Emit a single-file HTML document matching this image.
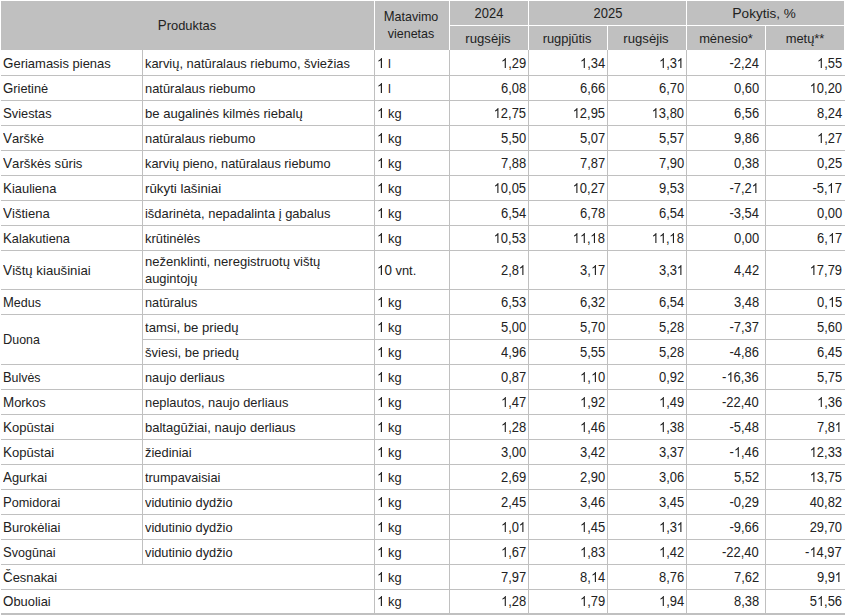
<!DOCTYPE html>
<html><head><meta charset="utf-8"><style>
html,body{margin:0;padding:0;background:#fff;}
body{width:845px;height:615px;position:relative;overflow:hidden;font-family:"Liberation Sans",sans-serif;font-size:14px;color:#222;}
div{position:absolute;}
.l,.r,.c{line-height:17px;white-space:nowrap;}
.u{font-size:14px;line-height:1px;}
.one{display:inline-block;width:7.786px;height:10.06px;vertical-align:baseline;fill:currentColor;overflow:visible;}
.l{transform:scaleX(0.925);transform-origin:0 0;}
.r{transform:scaleX(0.925);transform-origin:100% 0;text-align:right;}
.c{transform:translateX(-50%) scaleX(0.925);transform-origin:50% 0;text-align:center;}
</style></head><body>
<svg width="0" height="0" style="position:absolute"><defs><symbol id="o1" viewBox="0 0 1139 1472"><path transform="matrix(1 0 0 -1 0 1472)" d="M763 0L583 0L583 1147Q518 1085 412 1023Q306 961 222 930L222 1104Q373 1175 486 1276Q599 1377 646 1472L763 1472Z"/></symbol></defs></svg>
<div style="left:1px;top:1px;width:843px;height:49px;background:#c0c0c0"></div>
<div style="left:374px;top:1px;width:1px;height:49px;background:#fff"></div>
<div style="left:449px;top:1px;width:1px;height:49px;background:#fff"></div>
<div style="left:528px;top:1px;width:1px;height:49px;background:#fff"></div>
<div style="left:686px;top:1px;width:1px;height:49px;background:#fff"></div>
<div style="left:607px;top:26px;width:1px;height:24px;background:#fff"></div>
<div style="left:765px;top:26px;width:1px;height:24px;background:#fff"></div>
<div style="left:449px;top:25px;width:395px;height:1px;background:#fff"></div>
<div class="c" style="left:186.8px;top:17px;transform:translateX(-50%) scaleX(0.9550);font-size:13.5px;"><span class="u">P</span>roduktas</div>
<div class="c" style="left:411.2px;top:8px;transform:translateX(-50%) scaleX(0.9270);font-size:13.5px;"><span class="u">M</span>atavimo<br>vienetas</div>
<div class="c" style="left:489.0px;top:5px;">2024</div>
<div class="c" style="left:607.5px;top:5px;">2025</div>
<div class="c" style="left:764.1px;top:5px;transform:translateX(-50%) scaleX(1.0030);font-size:13.5px;"><span class="u">P</span>okytis, %</div>
<div class="c" style="left:488.0px;top:30px;transform:translateX(-50%) scaleX(0.9740);font-size:13.5px;">rugsėjis</div>
<div class="c" style="left:567.0px;top:30px;transform:translateX(-50%) scaleX(0.9550);font-size:13.5px;">rugpjūtis</div>
<div class="c" style="left:646.0px;top:30px;transform:translateX(-50%) scaleX(0.9740);font-size:13.5px;">rugsėjis</div>
<div class="c" style="left:726.0px;top:30px;transform:translateX(-50%) scaleX(0.9550);font-size:13.5px;">mėnesio*</div>
<div class="c" style="left:805.0px;top:30px;transform:translateX(-50%) scaleX(0.9550);font-size:13.5px;">metų**</div>
<div style="left:1px;top:75px;width:844px;height:1px;background:#c0c0c0"></div>
<div style="left:142px;top:50px;width:1px;height:26px;background:#c0c0c0"></div>
<div style="left:374px;top:50px;width:1px;height:26px;background:#c0c0c0"></div>
<div style="left:449px;top:50px;width:1px;height:26px;background:#c0c0c0"></div>
<div style="left:528px;top:50px;width:1px;height:26px;background:#c0c0c0"></div>
<div style="left:607px;top:50px;width:1px;height:26px;background:#c0c0c0"></div>
<div style="left:686px;top:50px;width:1px;height:26px;background:#c0c0c0"></div>
<div style="left:765px;top:50px;width:1px;height:26px;background:#c0c0c0"></div>
<div style="left:1px;top:100px;width:844px;height:1px;background:#c0c0c0"></div>
<div style="left:142px;top:75px;width:1px;height:26px;background:#c0c0c0"></div>
<div style="left:374px;top:75px;width:1px;height:26px;background:#c0c0c0"></div>
<div style="left:449px;top:75px;width:1px;height:26px;background:#c0c0c0"></div>
<div style="left:528px;top:75px;width:1px;height:26px;background:#c0c0c0"></div>
<div style="left:607px;top:75px;width:1px;height:26px;background:#c0c0c0"></div>
<div style="left:686px;top:75px;width:1px;height:26px;background:#c0c0c0"></div>
<div style="left:765px;top:75px;width:1px;height:26px;background:#c0c0c0"></div>
<div style="left:1px;top:125px;width:844px;height:1px;background:#c0c0c0"></div>
<div style="left:142px;top:100px;width:1px;height:26px;background:#c0c0c0"></div>
<div style="left:374px;top:100px;width:1px;height:26px;background:#c0c0c0"></div>
<div style="left:449px;top:100px;width:1px;height:26px;background:#c0c0c0"></div>
<div style="left:528px;top:100px;width:1px;height:26px;background:#c0c0c0"></div>
<div style="left:607px;top:100px;width:1px;height:26px;background:#c0c0c0"></div>
<div style="left:686px;top:100px;width:1px;height:26px;background:#c0c0c0"></div>
<div style="left:765px;top:100px;width:1px;height:26px;background:#c0c0c0"></div>
<div style="left:1px;top:150px;width:844px;height:1px;background:#c0c0c0"></div>
<div style="left:142px;top:125px;width:1px;height:26px;background:#c0c0c0"></div>
<div style="left:374px;top:125px;width:1px;height:26px;background:#c0c0c0"></div>
<div style="left:449px;top:125px;width:1px;height:26px;background:#c0c0c0"></div>
<div style="left:528px;top:125px;width:1px;height:26px;background:#c0c0c0"></div>
<div style="left:607px;top:125px;width:1px;height:26px;background:#c0c0c0"></div>
<div style="left:686px;top:125px;width:1px;height:26px;background:#c0c0c0"></div>
<div style="left:765px;top:125px;width:1px;height:26px;background:#c0c0c0"></div>
<div style="left:1px;top:175px;width:844px;height:1px;background:#c0c0c0"></div>
<div style="left:142px;top:150px;width:1px;height:26px;background:#c0c0c0"></div>
<div style="left:374px;top:150px;width:1px;height:26px;background:#c0c0c0"></div>
<div style="left:449px;top:150px;width:1px;height:26px;background:#c0c0c0"></div>
<div style="left:528px;top:150px;width:1px;height:26px;background:#c0c0c0"></div>
<div style="left:607px;top:150px;width:1px;height:26px;background:#c0c0c0"></div>
<div style="left:686px;top:150px;width:1px;height:26px;background:#c0c0c0"></div>
<div style="left:765px;top:150px;width:1px;height:26px;background:#c0c0c0"></div>
<div style="left:1px;top:200px;width:844px;height:1px;background:#c0c0c0"></div>
<div style="left:142px;top:175px;width:1px;height:26px;background:#c0c0c0"></div>
<div style="left:374px;top:175px;width:1px;height:26px;background:#c0c0c0"></div>
<div style="left:449px;top:175px;width:1px;height:26px;background:#c0c0c0"></div>
<div style="left:528px;top:175px;width:1px;height:26px;background:#c0c0c0"></div>
<div style="left:607px;top:175px;width:1px;height:26px;background:#c0c0c0"></div>
<div style="left:686px;top:175px;width:1px;height:26px;background:#c0c0c0"></div>
<div style="left:765px;top:175px;width:1px;height:26px;background:#c0c0c0"></div>
<div style="left:1px;top:225px;width:844px;height:1px;background:#c0c0c0"></div>
<div style="left:142px;top:200px;width:1px;height:26px;background:#c0c0c0"></div>
<div style="left:374px;top:200px;width:1px;height:26px;background:#c0c0c0"></div>
<div style="left:449px;top:200px;width:1px;height:26px;background:#c0c0c0"></div>
<div style="left:528px;top:200px;width:1px;height:26px;background:#c0c0c0"></div>
<div style="left:607px;top:200px;width:1px;height:26px;background:#c0c0c0"></div>
<div style="left:686px;top:200px;width:1px;height:26px;background:#c0c0c0"></div>
<div style="left:765px;top:200px;width:1px;height:26px;background:#c0c0c0"></div>
<div style="left:1px;top:250px;width:844px;height:1px;background:#c0c0c0"></div>
<div style="left:142px;top:225px;width:1px;height:26px;background:#c0c0c0"></div>
<div style="left:374px;top:225px;width:1px;height:26px;background:#c0c0c0"></div>
<div style="left:449px;top:225px;width:1px;height:26px;background:#c0c0c0"></div>
<div style="left:528px;top:225px;width:1px;height:26px;background:#c0c0c0"></div>
<div style="left:607px;top:225px;width:1px;height:26px;background:#c0c0c0"></div>
<div style="left:686px;top:225px;width:1px;height:26px;background:#c0c0c0"></div>
<div style="left:765px;top:225px;width:1px;height:26px;background:#c0c0c0"></div>
<div style="left:1px;top:289px;width:844px;height:1px;background:#c0c0c0"></div>
<div style="left:142px;top:250px;width:1px;height:40px;background:#c0c0c0"></div>
<div style="left:374px;top:250px;width:1px;height:40px;background:#c0c0c0"></div>
<div style="left:449px;top:250px;width:1px;height:40px;background:#c0c0c0"></div>
<div style="left:528px;top:250px;width:1px;height:40px;background:#c0c0c0"></div>
<div style="left:607px;top:250px;width:1px;height:40px;background:#c0c0c0"></div>
<div style="left:686px;top:250px;width:1px;height:40px;background:#c0c0c0"></div>
<div style="left:765px;top:250px;width:1px;height:40px;background:#c0c0c0"></div>
<div style="left:1px;top:314px;width:844px;height:1px;background:#c0c0c0"></div>
<div style="left:142px;top:289px;width:1px;height:26px;background:#c0c0c0"></div>
<div style="left:374px;top:289px;width:1px;height:26px;background:#c0c0c0"></div>
<div style="left:449px;top:289px;width:1px;height:26px;background:#c0c0c0"></div>
<div style="left:528px;top:289px;width:1px;height:26px;background:#c0c0c0"></div>
<div style="left:607px;top:289px;width:1px;height:26px;background:#c0c0c0"></div>
<div style="left:686px;top:289px;width:1px;height:26px;background:#c0c0c0"></div>
<div style="left:765px;top:289px;width:1px;height:26px;background:#c0c0c0"></div>
<div style="left:143px;top:339px;width:702px;height:1px;background:#c0c0c0"></div>
<div style="left:142px;top:314px;width:1px;height:26px;background:#c0c0c0"></div>
<div style="left:374px;top:314px;width:1px;height:26px;background:#c0c0c0"></div>
<div style="left:449px;top:314px;width:1px;height:26px;background:#c0c0c0"></div>
<div style="left:528px;top:314px;width:1px;height:26px;background:#c0c0c0"></div>
<div style="left:607px;top:314px;width:1px;height:26px;background:#c0c0c0"></div>
<div style="left:686px;top:314px;width:1px;height:26px;background:#c0c0c0"></div>
<div style="left:765px;top:314px;width:1px;height:26px;background:#c0c0c0"></div>
<div style="left:1px;top:364px;width:844px;height:1px;background:#c0c0c0"></div>
<div style="left:142px;top:339px;width:1px;height:26px;background:#c0c0c0"></div>
<div style="left:374px;top:339px;width:1px;height:26px;background:#c0c0c0"></div>
<div style="left:449px;top:339px;width:1px;height:26px;background:#c0c0c0"></div>
<div style="left:528px;top:339px;width:1px;height:26px;background:#c0c0c0"></div>
<div style="left:607px;top:339px;width:1px;height:26px;background:#c0c0c0"></div>
<div style="left:686px;top:339px;width:1px;height:26px;background:#c0c0c0"></div>
<div style="left:765px;top:339px;width:1px;height:26px;background:#c0c0c0"></div>
<div style="left:1px;top:389px;width:844px;height:1px;background:#c0c0c0"></div>
<div style="left:142px;top:364px;width:1px;height:26px;background:#c0c0c0"></div>
<div style="left:374px;top:364px;width:1px;height:26px;background:#c0c0c0"></div>
<div style="left:449px;top:364px;width:1px;height:26px;background:#c0c0c0"></div>
<div style="left:528px;top:364px;width:1px;height:26px;background:#c0c0c0"></div>
<div style="left:607px;top:364px;width:1px;height:26px;background:#c0c0c0"></div>
<div style="left:686px;top:364px;width:1px;height:26px;background:#c0c0c0"></div>
<div style="left:765px;top:364px;width:1px;height:26px;background:#c0c0c0"></div>
<div style="left:1px;top:414px;width:844px;height:1px;background:#c0c0c0"></div>
<div style="left:142px;top:389px;width:1px;height:26px;background:#c0c0c0"></div>
<div style="left:374px;top:389px;width:1px;height:26px;background:#c0c0c0"></div>
<div style="left:449px;top:389px;width:1px;height:26px;background:#c0c0c0"></div>
<div style="left:528px;top:389px;width:1px;height:26px;background:#c0c0c0"></div>
<div style="left:607px;top:389px;width:1px;height:26px;background:#c0c0c0"></div>
<div style="left:686px;top:389px;width:1px;height:26px;background:#c0c0c0"></div>
<div style="left:765px;top:389px;width:1px;height:26px;background:#c0c0c0"></div>
<div style="left:1px;top:439px;width:844px;height:1px;background:#c0c0c0"></div>
<div style="left:142px;top:414px;width:1px;height:26px;background:#c0c0c0"></div>
<div style="left:374px;top:414px;width:1px;height:26px;background:#c0c0c0"></div>
<div style="left:449px;top:414px;width:1px;height:26px;background:#c0c0c0"></div>
<div style="left:528px;top:414px;width:1px;height:26px;background:#c0c0c0"></div>
<div style="left:607px;top:414px;width:1px;height:26px;background:#c0c0c0"></div>
<div style="left:686px;top:414px;width:1px;height:26px;background:#c0c0c0"></div>
<div style="left:765px;top:414px;width:1px;height:26px;background:#c0c0c0"></div>
<div style="left:1px;top:464px;width:844px;height:1px;background:#c0c0c0"></div>
<div style="left:142px;top:439px;width:1px;height:26px;background:#c0c0c0"></div>
<div style="left:374px;top:439px;width:1px;height:26px;background:#c0c0c0"></div>
<div style="left:449px;top:439px;width:1px;height:26px;background:#c0c0c0"></div>
<div style="left:528px;top:439px;width:1px;height:26px;background:#c0c0c0"></div>
<div style="left:607px;top:439px;width:1px;height:26px;background:#c0c0c0"></div>
<div style="left:686px;top:439px;width:1px;height:26px;background:#c0c0c0"></div>
<div style="left:765px;top:439px;width:1px;height:26px;background:#c0c0c0"></div>
<div style="left:1px;top:489px;width:844px;height:1px;background:#c0c0c0"></div>
<div style="left:142px;top:464px;width:1px;height:26px;background:#c0c0c0"></div>
<div style="left:374px;top:464px;width:1px;height:26px;background:#c0c0c0"></div>
<div style="left:449px;top:464px;width:1px;height:26px;background:#c0c0c0"></div>
<div style="left:528px;top:464px;width:1px;height:26px;background:#c0c0c0"></div>
<div style="left:607px;top:464px;width:1px;height:26px;background:#c0c0c0"></div>
<div style="left:686px;top:464px;width:1px;height:26px;background:#c0c0c0"></div>
<div style="left:765px;top:464px;width:1px;height:26px;background:#c0c0c0"></div>
<div style="left:1px;top:514px;width:844px;height:1px;background:#c0c0c0"></div>
<div style="left:142px;top:489px;width:1px;height:26px;background:#c0c0c0"></div>
<div style="left:374px;top:489px;width:1px;height:26px;background:#c0c0c0"></div>
<div style="left:449px;top:489px;width:1px;height:26px;background:#c0c0c0"></div>
<div style="left:528px;top:489px;width:1px;height:26px;background:#c0c0c0"></div>
<div style="left:607px;top:489px;width:1px;height:26px;background:#c0c0c0"></div>
<div style="left:686px;top:489px;width:1px;height:26px;background:#c0c0c0"></div>
<div style="left:765px;top:489px;width:1px;height:26px;background:#c0c0c0"></div>
<div style="left:1px;top:539px;width:844px;height:1px;background:#c0c0c0"></div>
<div style="left:142px;top:514px;width:1px;height:26px;background:#c0c0c0"></div>
<div style="left:374px;top:514px;width:1px;height:26px;background:#c0c0c0"></div>
<div style="left:449px;top:514px;width:1px;height:26px;background:#c0c0c0"></div>
<div style="left:528px;top:514px;width:1px;height:26px;background:#c0c0c0"></div>
<div style="left:607px;top:514px;width:1px;height:26px;background:#c0c0c0"></div>
<div style="left:686px;top:514px;width:1px;height:26px;background:#c0c0c0"></div>
<div style="left:765px;top:514px;width:1px;height:26px;background:#c0c0c0"></div>
<div style="left:1px;top:564px;width:844px;height:1px;background:#c0c0c0"></div>
<div style="left:142px;top:539px;width:1px;height:26px;background:#c0c0c0"></div>
<div style="left:374px;top:539px;width:1px;height:26px;background:#c0c0c0"></div>
<div style="left:449px;top:539px;width:1px;height:26px;background:#c0c0c0"></div>
<div style="left:528px;top:539px;width:1px;height:26px;background:#c0c0c0"></div>
<div style="left:607px;top:539px;width:1px;height:26px;background:#c0c0c0"></div>
<div style="left:686px;top:539px;width:1px;height:26px;background:#c0c0c0"></div>
<div style="left:765px;top:539px;width:1px;height:26px;background:#c0c0c0"></div>
<div style="left:1px;top:589px;width:844px;height:1px;background:#c0c0c0"></div>
<div style="left:374px;top:564px;width:1px;height:26px;background:#c0c0c0"></div>
<div style="left:449px;top:564px;width:1px;height:26px;background:#c0c0c0"></div>
<div style="left:528px;top:564px;width:1px;height:26px;background:#c0c0c0"></div>
<div style="left:607px;top:564px;width:1px;height:26px;background:#c0c0c0"></div>
<div style="left:686px;top:564px;width:1px;height:26px;background:#c0c0c0"></div>
<div style="left:765px;top:564px;width:1px;height:26px;background:#c0c0c0"></div>
<div style="left:1px;top:614px;width:844px;height:1px;background:#c0c0c0"></div>
<div style="left:374px;top:589px;width:1px;height:26px;background:#c0c0c0"></div>
<div style="left:449px;top:589px;width:1px;height:26px;background:#c0c0c0"></div>
<div style="left:528px;top:589px;width:1px;height:26px;background:#c0c0c0"></div>
<div style="left:607px;top:589px;width:1px;height:26px;background:#c0c0c0"></div>
<div style="left:686px;top:589px;width:1px;height:26px;background:#c0c0c0"></div>
<div style="left:765px;top:589px;width:1px;height:26px;background:#c0c0c0"></div>
<div style="left:1px;top:613px;width:844px;height:2px;background:#c0c0c0"></div>
<div class="l" style="left:3px;top:55px;transform:scaleX(0.9605);font-size:13.5px;"><span class="u">G</span>eriamasis pienas</div>
<div class="l" style="left:145px;top:55px;transform:scaleX(0.9550);font-size:13.5px;">karvių, natūralaus riebumo, šviežias</div>
<div class="l" style="left:377px;top:55px;transform:scaleX(0.9550);font-size:13.5px;"><svg class="one" viewBox="0 0 1139 1472"><use href="#o1"/></svg> l</div>
<div class="r" style="right:319px;top:55px;"><svg class="one" viewBox="0 0 1139 1472"><use href="#o1"/></svg>,29</div>
<div class="r" style="right:240px;top:55px;"><svg class="one" viewBox="0 0 1139 1472"><use href="#o1"/></svg>,34</div>
<div class="r" style="right:161px;top:55px;"><svg class="one" viewBox="0 0 1139 1472"><use href="#o1"/></svg>,3<svg class="one" viewBox="0 0 1139 1472"><use href="#o1"/></svg></div>
<div class="r" style="right:86px;top:55px;">-2,24</div>
<div class="r" style="right:3px;top:55px;"><svg class="one" viewBox="0 0 1139 1472"><use href="#o1"/></svg>,55</div>
<div class="l" style="left:3px;top:80px;transform:scaleX(0.9468);font-size:13.5px;"><span class="u">G</span>rietinė</div>
<div class="l" style="left:145px;top:80px;transform:scaleX(0.9550);font-size:13.5px;">natūralaus riebumo</div>
<div class="l" style="left:377px;top:80px;transform:scaleX(0.9550);font-size:13.5px;"><svg class="one" viewBox="0 0 1139 1472"><use href="#o1"/></svg> l</div>
<div class="r" style="right:319px;top:80px;">6,08</div>
<div class="r" style="right:240px;top:80px;">6,66</div>
<div class="r" style="right:161px;top:80px;">6,70</div>
<div class="r" style="right:86px;top:80px;">0,60</div>
<div class="r" style="right:3px;top:80px;"><svg class="one" viewBox="0 0 1139 1472"><use href="#o1"/></svg>0,20</div>
<div class="l" style="left:3px;top:105px;transform:scaleX(0.9455);font-size:13.5px;"><span class="u">S</span>viestas</div>
<div class="l" style="left:145px;top:105px;transform:scaleX(0.9686);font-size:13.5px;">be augalinės kilmės riebalų</div>
<div class="l" style="left:377px;top:105px;transform:scaleX(0.9550);font-size:13.5px;"><svg class="one" viewBox="0 0 1139 1472"><use href="#o1"/></svg> kg</div>
<div class="r" style="right:319px;top:105px;"><svg class="one" viewBox="0 0 1139 1472"><use href="#o1"/></svg>2,75</div>
<div class="r" style="right:240px;top:105px;"><svg class="one" viewBox="0 0 1139 1472"><use href="#o1"/></svg>2,95</div>
<div class="r" style="right:161px;top:105px;"><svg class="one" viewBox="0 0 1139 1472"><use href="#o1"/></svg>3,80</div>
<div class="r" style="right:86px;top:105px;">6,56</div>
<div class="r" style="right:3px;top:105px;">8,24</div>
<div class="l" style="left:3px;top:130px;transform:scaleX(0.9661);font-size:13.5px;"><span class="u">V</span>arškė</div>
<div class="l" style="left:145px;top:130px;transform:scaleX(0.9550);font-size:13.5px;">natūralaus riebumo</div>
<div class="l" style="left:377px;top:130px;transform:scaleX(0.9550);font-size:13.5px;"><svg class="one" viewBox="0 0 1139 1472"><use href="#o1"/></svg> kg</div>
<div class="r" style="right:319px;top:130px;">5,50</div>
<div class="r" style="right:240px;top:130px;">5,07</div>
<div class="r" style="right:161px;top:130px;">5,57</div>
<div class="r" style="right:86px;top:130px;">9,86</div>
<div class="r" style="right:3px;top:130px;"><svg class="one" viewBox="0 0 1139 1472"><use href="#o1"/></svg>,27</div>
<div class="l" style="left:3px;top:155px;transform:scaleX(0.9760);font-size:13.5px;"><span class="u">V</span>arškės sūris</div>
<div class="l" style="left:145px;top:155px;transform:scaleX(0.9473);font-size:13.5px;">karvių pieno, natūralaus riebumo</div>
<div class="l" style="left:377px;top:155px;transform:scaleX(0.9550);font-size:13.5px;"><svg class="one" viewBox="0 0 1139 1472"><use href="#o1"/></svg> kg</div>
<div class="r" style="right:319px;top:155px;">7,88</div>
<div class="r" style="right:240px;top:155px;">7,87</div>
<div class="r" style="right:161px;top:155px;">7,90</div>
<div class="r" style="right:86px;top:155px;">0,38</div>
<div class="r" style="right:3px;top:155px;">0,25</div>
<div class="l" style="left:3px;top:180px;transform:scaleX(0.9550);font-size:13.5px;"><span class="u">K</span>iauliena</div>
<div class="l" style="left:145px;top:180px;transform:scaleX(0.9855);font-size:13.5px;">rūkyti lašiniai</div>
<div class="l" style="left:377px;top:180px;transform:scaleX(0.9550);font-size:13.5px;"><svg class="one" viewBox="0 0 1139 1472"><use href="#o1"/></svg> kg</div>
<div class="r" style="right:319px;top:180px;"><svg class="one" viewBox="0 0 1139 1472"><use href="#o1"/></svg>0,05</div>
<div class="r" style="right:240px;top:180px;"><svg class="one" viewBox="0 0 1139 1472"><use href="#o1"/></svg>0,27</div>
<div class="r" style="right:161px;top:180px;">9,53</div>
<div class="r" style="right:86px;top:180px;">-7,2<svg class="one" viewBox="0 0 1139 1472"><use href="#o1"/></svg></div>
<div class="r" style="right:3px;top:180px;">-5,<svg class="one" viewBox="0 0 1139 1472"><use href="#o1"/></svg>7</div>
<div class="l" style="left:3px;top:205px;transform:scaleX(0.9661);font-size:13.5px;"><span class="u">V</span>ištiena</div>
<div class="l" style="left:145px;top:205px;transform:scaleX(0.9576);font-size:13.5px;">išdarinėta, nepadalinta į gabalus</div>
<div class="l" style="left:377px;top:205px;transform:scaleX(0.9550);font-size:13.5px;"><svg class="one" viewBox="0 0 1139 1472"><use href="#o1"/></svg> kg</div>
<div class="r" style="right:319px;top:205px;">6,54</div>
<div class="r" style="right:240px;top:205px;">6,78</div>
<div class="r" style="right:161px;top:205px;">6,54</div>
<div class="r" style="right:86px;top:205px;">-3,54</div>
<div class="r" style="right:3px;top:205px;">0,00</div>
<div class="l" style="left:3px;top:230px;transform:scaleX(0.9436);font-size:13.5px;"><span class="u">K</span>alakutiena</div>
<div class="l" style="left:145px;top:230px;transform:scaleX(0.9550);font-size:13.5px;">krūtinėlės</div>
<div class="l" style="left:377px;top:230px;transform:scaleX(0.9550);font-size:13.5px;"><svg class="one" viewBox="0 0 1139 1472"><use href="#o1"/></svg> kg</div>
<div class="r" style="right:319px;top:230px;"><svg class="one" viewBox="0 0 1139 1472"><use href="#o1"/></svg>0,53</div>
<div class="r" style="right:240px;top:230px;"><svg class="one" viewBox="0 0 1139 1472"><use href="#o1"/></svg><svg class="one" viewBox="0 0 1139 1472"><use href="#o1"/></svg>,<svg class="one" viewBox="0 0 1139 1472"><use href="#o1"/></svg>8</div>
<div class="r" style="right:161px;top:230px;"><svg class="one" viewBox="0 0 1139 1472"><use href="#o1"/></svg><svg class="one" viewBox="0 0 1139 1472"><use href="#o1"/></svg>,<svg class="one" viewBox="0 0 1139 1472"><use href="#o1"/></svg>8</div>
<div class="r" style="right:86px;top:230px;">0,00</div>
<div class="r" style="right:3px;top:230px;">6,<svg class="one" viewBox="0 0 1139 1472"><use href="#o1"/></svg>7</div>
<div class="l" style="left:3px;top:262px;transform:scaleX(0.9781);font-size:13.5px;"><span class="u">V</span>ištų kiaušiniai</div>
<div class="l" style="left:145px;top:253px;transform:scaleX(0.9655);font-size:13.5px;">neženklinti, neregistruotų vištų</div>
<div class="l" style="left:145px;top:270px;transform:scaleX(0.9550);font-size:13.5px;">augintojų</div>
<div class="l" style="left:377px;top:262px;transform:scaleX(0.9550);font-size:13.5px;"><svg class="one" viewBox="0 0 1139 1472"><use href="#o1"/></svg><span class="u">0</span> vnt.</div>
<div class="r" style="right:319px;top:262px;">2,8<svg class="one" viewBox="0 0 1139 1472"><use href="#o1"/></svg></div>
<div class="r" style="right:240px;top:262px;">3,<svg class="one" viewBox="0 0 1139 1472"><use href="#o1"/></svg>7</div>
<div class="r" style="right:161px;top:262px;">3,3<svg class="one" viewBox="0 0 1139 1472"><use href="#o1"/></svg></div>
<div class="r" style="right:86px;top:262px;">4,42</div>
<div class="r" style="right:3px;top:262px;"><svg class="one" viewBox="0 0 1139 1472"><use href="#o1"/></svg>7,79</div>
<div class="l" style="left:3px;top:294px;transform:scaleX(0.9274);font-size:13.5px;"><span class="u">M</span>edus</div>
<div class="l" style="left:145px;top:294px;transform:scaleX(0.9421);font-size:13.5px;">natūralus</div>
<div class="l" style="left:377px;top:294px;transform:scaleX(0.9550);font-size:13.5px;"><svg class="one" viewBox="0 0 1139 1472"><use href="#o1"/></svg> kg</div>
<div class="r" style="right:319px;top:294px;">6,53</div>
<div class="r" style="right:240px;top:294px;">6,32</div>
<div class="r" style="right:161px;top:294px;">6,54</div>
<div class="r" style="right:86px;top:294px;">3,48</div>
<div class="r" style="right:3px;top:294px;">0,<svg class="one" viewBox="0 0 1139 1472"><use href="#o1"/></svg>5</div>
<div class="l" style="left:3px;top:331px;transform:scaleX(0.9170);font-size:13.5px;"><span class="u">D</span>uona</div>
<div class="l" style="left:145px;top:319px;transform:scaleX(0.9741);font-size:13.5px;">tamsi, be priedų</div>
<div class="l" style="left:377px;top:319px;transform:scaleX(0.9550);font-size:13.5px;"><svg class="one" viewBox="0 0 1139 1472"><use href="#o1"/></svg> kg</div>
<div class="r" style="right:319px;top:319px;">5,00</div>
<div class="r" style="right:240px;top:319px;">5,70</div>
<div class="r" style="right:161px;top:319px;">5,28</div>
<div class="r" style="right:86px;top:319px;">-7,37</div>
<div class="r" style="right:3px;top:319px;">5,60</div>
<div class="l" style="left:145px;top:344px;transform:scaleX(0.9634);font-size:13.5px;">šviesi, be priedų</div>
<div class="l" style="left:377px;top:344px;transform:scaleX(0.9550);font-size:13.5px;"><svg class="one" viewBox="0 0 1139 1472"><use href="#o1"/></svg> kg</div>
<div class="r" style="right:319px;top:344px;">4,96</div>
<div class="r" style="right:240px;top:344px;">5,55</div>
<div class="r" style="right:161px;top:344px;">5,28</div>
<div class="r" style="right:86px;top:344px;">-4,86</div>
<div class="r" style="right:3px;top:344px;">6,45</div>
<div class="l" style="left:3px;top:369px;transform:scaleX(0.9192);font-size:13.5px;"><span class="u">B</span>ulvės</div>
<div class="l" style="left:145px;top:369px;transform:scaleX(0.9465);font-size:13.5px;">naujo derliaus</div>
<div class="l" style="left:377px;top:369px;transform:scaleX(0.9550);font-size:13.5px;"><svg class="one" viewBox="0 0 1139 1472"><use href="#o1"/></svg> kg</div>
<div class="r" style="right:319px;top:369px;">0,87</div>
<div class="r" style="right:240px;top:369px;"><svg class="one" viewBox="0 0 1139 1472"><use href="#o1"/></svg>,<svg class="one" viewBox="0 0 1139 1472"><use href="#o1"/></svg>0</div>
<div class="r" style="right:161px;top:369px;">0,92</div>
<div class="r" style="right:86px;top:369px;">-<svg class="one" viewBox="0 0 1139 1472"><use href="#o1"/></svg>6,36</div>
<div class="r" style="right:3px;top:369px;">5,75</div>
<div class="l" style="left:3px;top:394px;transform:scaleX(0.9550);font-size:13.5px;"><span class="u">M</span>orkos</div>
<div class="l" style="left:145px;top:394px;transform:scaleX(0.9550);font-size:13.5px;">neplautos, naujo derliaus</div>
<div class="l" style="left:377px;top:394px;transform:scaleX(0.9550);font-size:13.5px;"><svg class="one" viewBox="0 0 1139 1472"><use href="#o1"/></svg> kg</div>
<div class="r" style="right:319px;top:394px;"><svg class="one" viewBox="0 0 1139 1472"><use href="#o1"/></svg>,47</div>
<div class="r" style="right:240px;top:394px;"><svg class="one" viewBox="0 0 1139 1472"><use href="#o1"/></svg>,92</div>
<div class="r" style="right:161px;top:394px;"><svg class="one" viewBox="0 0 1139 1472"><use href="#o1"/></svg>,49</div>
<div class="r" style="right:86px;top:394px;">-22,40</div>
<div class="r" style="right:3px;top:394px;"><svg class="one" viewBox="0 0 1139 1472"><use href="#o1"/></svg>,36</div>
<div class="l" style="left:3px;top:419px;transform:scaleX(0.9655);font-size:13.5px;"><span class="u">K</span>opūstai</div>
<div class="l" style="left:145px;top:419px;transform:scaleX(0.9641);font-size:13.5px;">baltagūžiai, naujo derliaus</div>
<div class="l" style="left:377px;top:419px;transform:scaleX(0.9550);font-size:13.5px;"><svg class="one" viewBox="0 0 1139 1472"><use href="#o1"/></svg> kg</div>
<div class="r" style="right:319px;top:419px;"><svg class="one" viewBox="0 0 1139 1472"><use href="#o1"/></svg>,28</div>
<div class="r" style="right:240px;top:419px;"><svg class="one" viewBox="0 0 1139 1472"><use href="#o1"/></svg>,46</div>
<div class="r" style="right:161px;top:419px;"><svg class="one" viewBox="0 0 1139 1472"><use href="#o1"/></svg>,38</div>
<div class="r" style="right:86px;top:419px;">-5,48</div>
<div class="r" style="right:3px;top:419px;">7,8<svg class="one" viewBox="0 0 1139 1472"><use href="#o1"/></svg></div>
<div class="l" style="left:3px;top:444px;transform:scaleX(0.9655);font-size:13.5px;"><span class="u">K</span>opūstai</div>
<div class="l" style="left:145px;top:444px;transform:scaleX(0.9550);font-size:13.5px;">žiediniai</div>
<div class="l" style="left:377px;top:444px;transform:scaleX(0.9550);font-size:13.5px;"><svg class="one" viewBox="0 0 1139 1472"><use href="#o1"/></svg> kg</div>
<div class="r" style="right:319px;top:444px;">3,00</div>
<div class="r" style="right:240px;top:444px;">3,42</div>
<div class="r" style="right:161px;top:444px;">3,37</div>
<div class="r" style="right:86px;top:444px;">-<svg class="one" viewBox="0 0 1139 1472"><use href="#o1"/></svg>,46</div>
<div class="r" style="right:3px;top:444px;"><svg class="one" viewBox="0 0 1139 1472"><use href="#o1"/></svg>2,33</div>
<div class="l" style="left:3px;top:469px;transform:scaleX(0.9550);font-size:13.5px;"><span class="u">A</span>gurkai</div>
<div class="l" style="left:145px;top:469px;transform:scaleX(0.9474);font-size:13.5px;">trumpavaisiai</div>
<div class="l" style="left:377px;top:469px;transform:scaleX(0.9550);font-size:13.5px;"><svg class="one" viewBox="0 0 1139 1472"><use href="#o1"/></svg> kg</div>
<div class="r" style="right:319px;top:469px;">2,69</div>
<div class="r" style="right:240px;top:469px;">2,90</div>
<div class="r" style="right:161px;top:469px;">3,06</div>
<div class="r" style="right:86px;top:469px;">5,52</div>
<div class="r" style="right:3px;top:469px;"><svg class="one" viewBox="0 0 1139 1472"><use href="#o1"/></svg>3,75</div>
<div class="l" style="left:3px;top:494px;transform:scaleX(0.9382);font-size:13.5px;"><span class="u">P</span>omidorai</div>
<div class="l" style="left:145px;top:494px;transform:scaleX(0.9484);font-size:13.5px;">vidutinio dydžio</div>
<div class="l" style="left:377px;top:494px;transform:scaleX(0.9550);font-size:13.5px;"><svg class="one" viewBox="0 0 1139 1472"><use href="#o1"/></svg> kg</div>
<div class="r" style="right:319px;top:494px;">2,45</div>
<div class="r" style="right:240px;top:494px;">3,46</div>
<div class="r" style="right:161px;top:494px;">3,45</div>
<div class="r" style="right:86px;top:494px;">-0,29</div>
<div class="r" style="right:3px;top:494px;">40,82</div>
<div class="l" style="left:3px;top:519px;transform:scaleX(0.9640);font-size:13.5px;"><span class="u">B</span>urokėliai</div>
<div class="l" style="left:145px;top:519px;transform:scaleX(0.9484);font-size:13.5px;">vidutinio dydžio</div>
<div class="l" style="left:377px;top:519px;transform:scaleX(0.9550);font-size:13.5px;"><svg class="one" viewBox="0 0 1139 1472"><use href="#o1"/></svg> kg</div>
<div class="r" style="right:319px;top:519px;"><svg class="one" viewBox="0 0 1139 1472"><use href="#o1"/></svg>,0<svg class="one" viewBox="0 0 1139 1472"><use href="#o1"/></svg></div>
<div class="r" style="right:240px;top:519px;"><svg class="one" viewBox="0 0 1139 1472"><use href="#o1"/></svg>,45</div>
<div class="r" style="right:161px;top:519px;"><svg class="one" viewBox="0 0 1139 1472"><use href="#o1"/></svg>,3<svg class="one" viewBox="0 0 1139 1472"><use href="#o1"/></svg></div>
<div class="r" style="right:86px;top:519px;">-9,66</div>
<div class="r" style="right:3px;top:519px;">29,70</div>
<div class="l" style="left:3px;top:544px;transform:scaleX(0.9293);font-size:13.5px;"><span class="u">S</span>vogūnai</div>
<div class="l" style="left:145px;top:544px;transform:scaleX(0.9484);font-size:13.5px;">vidutinio dydžio</div>
<div class="l" style="left:377px;top:544px;transform:scaleX(0.9550);font-size:13.5px;"><svg class="one" viewBox="0 0 1139 1472"><use href="#o1"/></svg> kg</div>
<div class="r" style="right:319px;top:544px;"><svg class="one" viewBox="0 0 1139 1472"><use href="#o1"/></svg>,67</div>
<div class="r" style="right:240px;top:544px;"><svg class="one" viewBox="0 0 1139 1472"><use href="#o1"/></svg>,83</div>
<div class="r" style="right:161px;top:544px;"><svg class="one" viewBox="0 0 1139 1472"><use href="#o1"/></svg>,42</div>
<div class="r" style="right:86px;top:544px;">-22,40</div>
<div class="r" style="right:3px;top:544px;">-<svg class="one" viewBox="0 0 1139 1472"><use href="#o1"/></svg>4,97</div>
<div class="l" style="left:3px;top:569px;transform:scaleX(0.9550);font-size:13.5px;"><span class="u">Č</span>esnakai</div>
<div class="l" style="left:377px;top:569px;transform:scaleX(0.9550);font-size:13.5px;"><svg class="one" viewBox="0 0 1139 1472"><use href="#o1"/></svg> kg</div>
<div class="r" style="right:319px;top:569px;">7,97</div>
<div class="r" style="right:240px;top:569px;">8,<svg class="one" viewBox="0 0 1139 1472"><use href="#o1"/></svg>4</div>
<div class="r" style="right:161px;top:569px;">8,76</div>
<div class="r" style="right:86px;top:569px;">7,62</div>
<div class="r" style="right:3px;top:569px;">9,9<svg class="one" viewBox="0 0 1139 1472"><use href="#o1"/></svg></div>
<div class="l" style="left:3px;top:593px;transform:scaleX(0.9550);font-size:13.5px;"><span class="u">O</span>buoliai</div>
<div class="l" style="left:377px;top:593px;transform:scaleX(0.9550);font-size:13.5px;"><svg class="one" viewBox="0 0 1139 1472"><use href="#o1"/></svg> kg</div>
<div class="r" style="right:319px;top:593px;"><svg class="one" viewBox="0 0 1139 1472"><use href="#o1"/></svg>,28</div>
<div class="r" style="right:240px;top:593px;"><svg class="one" viewBox="0 0 1139 1472"><use href="#o1"/></svg>,79</div>
<div class="r" style="right:161px;top:593px;"><svg class="one" viewBox="0 0 1139 1472"><use href="#o1"/></svg>,94</div>
<div class="r" style="right:86px;top:593px;">8,38</div>
<div class="r" style="right:3px;top:593px;">5<svg class="one" viewBox="0 0 1139 1472"><use href="#o1"/></svg>,56</div>
</body></html>
